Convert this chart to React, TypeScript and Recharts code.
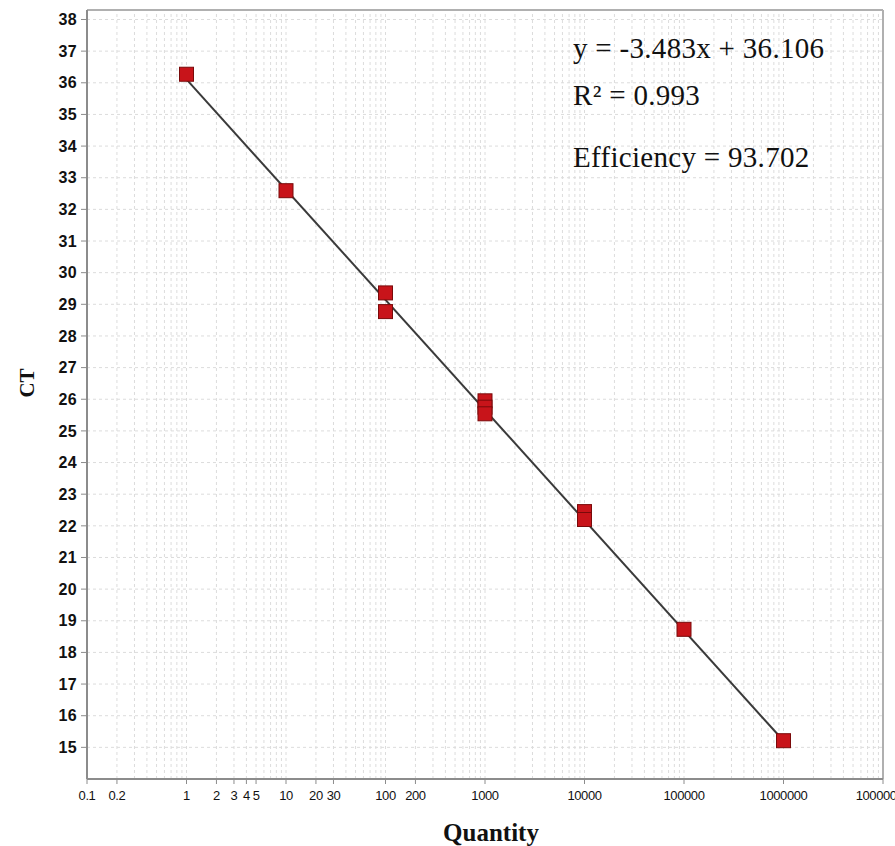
import { ScatterChart, Scatter, XAxis, YAxis, ReferenceLine } from 'recharts'

// standard curve points (quantity, CT)
const quantities = [1, 10, 100, 100, 1000, 1000, 1000, 10000, 10000, 100000, 1000000]
const ctValues = [36.27, 32.59, 29.36, 28.77, 25.95, 25.75, 25.54, 22.45, 22.2, 18.73, 15.21]

// regression line endpoints
const fitQuantity = [1, 1000000]
const fitCt = [36.106, 15.208]

const xTicks = [0.1, 0.2, 1, 2, 3, 4, 5, 10, 20, 30, 100, 200, 1000, 10000, 100000, 1000000, 10000000]
const yTicks = [15, 16, 17, 18, 19, 20, 21, 22, 23, 24, 25, 26, 27, 28, 29, 30, 31, 32, 33, 34, 35, 36, 37, 38]
const decades = [0.1, 1, 10, 100, 1000, 10000, 100000, 1000000]
const multiples = [1, 2, 3, 4, 5, 6, 7, 8, 9]

const annotations = ['y = -3.483x + 36.106', 'R² = 0.993', 'Efficiency = 93.702']

const points = quantities.map((q, i) => ({ x: q, y: ctValues[i] }))
const fitLine = fitQuantity.map((q, i) => ({ x: q, y: fitCt[i] }))
const gridX = decades.flatMap(d => multiples.map(m => +(d * m).toPrecision(3))).filter(v => v > 0.1)

const GRID = '#dcdcdc'
const AXIS = '#8c8c8c'

const Square = (props: any) => {
  const { cx, cy } = props
  if (cx == null || cy == null) return <g />
  return <rect x={cx - 7} y={cy - 7} width={14} height={14} fill="#c8141a" stroke="#7a0a0a" strokeWidth={1} />
}

export default function App() {
  return (
    <div style={{ position: 'absolute', left: 0, top: 0, width: 895, height: 846, background: '#fff', overflow: 'hidden' }}>
      <ScatterChart width={895} height={846} margin={{ top: 10, right: 12, bottom: 0, left: 0 }}>
        <XAxis
          type="number" dataKey="x" scale="log" domain={[0.1, 10000000]} allowDataOverflow
          ticks={xTicks} interval={0}
          tick={{ fontSize: 13, fill: '#111', fontFamily: 'Liberation Sans, Arial, sans-serif', letterSpacing: -0.4 }}
          tickSize={5} tickMargin={7} height={67}
          axisLine={{ stroke: AXIS, strokeWidth: 2 }} tickLine={{ stroke: AXIS }}
          tickFormatter={(v: number) => String(v)}
        />
        <YAxis
          type="number" dataKey="y" domain={[14, 38.3]} allowDataOverflow
          ticks={yTicks} interval={0} width={87}
          tick={{ fontSize: 16, fill: '#111', fontWeight: 'bold', fontFamily: 'Liberation Sans, Arial, sans-serif', letterSpacing: 0.4 }}
          tickSize={6} tickMargin={4}
          axisLine={{ stroke: AXIS, strokeWidth: 2 }} tickLine={{ stroke: AXIS }}
        />
        {yTicks.map(v => (
          <ReferenceLine key={`h${v}`} y={v} stroke={GRID} strokeDasharray="3 3" />
        ))}
        {gridX.map(v => (
          <ReferenceLine key={`v${v}`} x={v} stroke={GRID} strokeDasharray="3 3" />
        ))}
        <ReferenceLine y={38.3} stroke="#b0b0b0" strokeWidth={2} />
        <ReferenceLine x={10000000} stroke="#b0b0b0" strokeWidth={2} />
        <Scatter data={fitLine} line={{ stroke: '#3a3a3a', strokeWidth: 2 }} shape={() => <g />} isAnimationActive={false} />
        <Scatter data={points} shape={Square} isAnimationActive={false} />
      </ScatterChart>
      <svg width={895} height={846} style={{ position: 'absolute', left: 0, top: 0, pointerEvents: 'none' }}>
        {annotations.map((t, i) => (
          <text key={t} x={573} y={[58, 105, 167][i]} fontSize={29} letterSpacing={0.3}
            fontFamily="Liberation Serif, Times New Roman, serif" fill="#111">{t}</text>
        ))}
        <text x={27} y={383} transform="rotate(-90 27 383)" textAnchor="middle" dominantBaseline="central"
          fontSize={21} fontWeight="bold" fontFamily="Liberation Serif, Times New Roman, serif" fill="#111">CT</text>
        <text x={491} y={841} textAnchor="middle" fontSize={25} fontWeight="bold"
          fontFamily="Liberation Serif, Times New Roman, serif" fill="#111">Quantity</text>
      </svg>
    </div>
  )
}
